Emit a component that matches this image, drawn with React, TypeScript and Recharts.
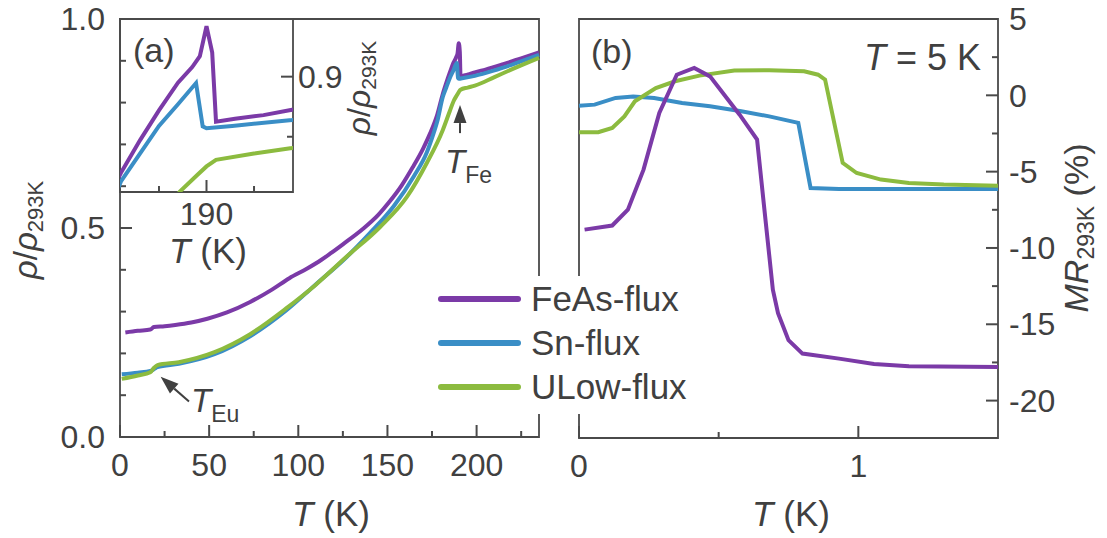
import React from 'react';
import { LineChart, Line, XAxis, YAxis, ReferenceArea, ReferenceLine, Legend } from 'recharts';

const FONT = '"Liberation Sans", Arial, Helvetica, sans-serif';
const INK = '#404040';
const FRAME = '#4a4a4a';
const PURPLE = '#7b3aa7';
const BLUE = '#3a8ec6';
const GREEN = '#8cbb3f';

// (a) normalized resistivity rho / rho(293 K) against temperature
const feasT = [3, 10, 17, 19, 25, 31, 40, 49, 60, 73, 85, 95, 105, 113, 118, 125, 136, 145, 151, 158, 164, 170, 174, 178, 181, 183, 185, 187, 188.5, 189.3, 190, 190.6, 191, 193, 196, 199, 205, 215, 225, 235];
const feasRho = [0.25, 0.254, 0.257, 0.263, 0.265, 0.268, 0.274, 0.283, 0.298, 0.323, 0.352, 0.38, 0.403, 0.424, 0.439, 0.461, 0.497, 0.532, 0.562, 0.602, 0.644, 0.69, 0.727, 0.772, 0.82, 0.847, 0.872, 0.895, 0.908, 0.917, 0.942, 0.92, 0.8625, 0.865, 0.868, 0.8725, 0.879, 0.892, 0.906, 0.92];

const snT = [1, 10, 17, 19, 21, 33, 53, 73, 93, 109, 127, 140, 153.5, 165, 172, 176, 178, 181, 183, 185, 187, 188.9, 189.6, 190, 192.7, 199, 210, 220, 235];
const snRho = [0.15, 0.154, 0.158, 0.162, 0.167, 0.175, 0.198, 0.241, 0.302, 0.362, 0.43, 0.487, 0.552, 0.625, 0.68, 0.728, 0.756, 0.8128, 0.836, 0.859, 0.877, 0.8947, 0.8586, 0.857, 0.859, 0.864, 0.877, 0.891, 0.914];

const ulowT = [1, 10, 17, 19, 21, 33, 53, 73, 93, 110, 127, 146, 161, 172, 181, 185, 187.2, 189, 190, 191, 195, 199, 210, 220, 235];
const ulowRho = [0.139, 0.147, 0.155, 0.165, 0.172, 0.179, 0.203, 0.246, 0.307, 0.365, 0.431, 0.503, 0.575, 0.655, 0.734, 0.78, 0.8044, 0.818, 0.8253, 0.8308, 0.836, 0.8406, 0.861, 0.88, 0.907];

// (b) magnetoresistance at T = 5 K
const feasB = [0.02, 0.119, 0.175, 0.231, 0.2875, 0.35, 0.4125, 0.469, 0.575, 0.6375, 0.6625, 0.694, 0.7125, 0.75, 0.8, 0.931, 1.056, 1.181, 1.5];
const feasMR = [-8.8, -8.53, -7.49, -4.87, -1.16, 1.35, 1.79, 1.24, -1.27, -2.9, -7.27, -12.73, -14.27, -16.04, -16.92, -17.25, -17.6, -17.75, -17.8];

const snB = [0, 0.056, 0.131, 0.194, 0.269, 0.369, 0.469, 0.581, 0.681, 0.785, 0.829, 0.931, 1.18, 1.5];
const snMR = [-0.68, -0.61, -0.17, -0.07, -0.17, -0.5, -0.72, -1.05, -1.38, -1.8, -6.07, -6.14, -6.14, -6.14];

const ulowB = [0, 0.069, 0.119, 0.1625, 0.2, 0.275, 0.344, 0.431, 0.556, 0.681, 0.806, 0.856, 0.881, 0.944, 0.994, 1.081, 1.181, 1.306, 1.5];
const ulowMR = [-2.42, -2.42, -2.14, -1.38, -0.39, 0.48, 0.92, 1.29, 1.62, 1.64, 1.57, 1.35, 1.03, -4.43, -5.09, -5.52, -5.74, -5.85, -5.92];

// axis ranges
const tDomain = [0, 235];
const rhoDomain = [0, 1];
const insetTDomain = [180.9, 199.1];
const insetRhoDomain = [0.804, 0.948];
const bDomain = [0, 1.5];
const mrDomain = [-22.45, 5];

// ticks and their labels (unlabelled entries are minor ticks)
const tTicks = [0, 25, 50, 75, 100, 125, 150, 175, 200, 225];
const tLabels: Record<string, string> = { 0: '0', 50: '50', 100: '100', 150: '150', 200: '200' };
const rhoTicks = [0, 0.1, 0.2, 0.3, 0.4, 0.5, 0.6, 0.7, 0.8, 0.9, 1];
const rhoLabels: Record<string, string> = { 0: '0.0', 0.5: '0.5', 1: '1.0' };
const insetTTicks = [185, 190, 195];
const insetTLabels: Record<string, string> = { 190: '190' };
const insetRhoTicks = [0.85, 0.9];
const insetRhoLabels: Record<string, string> = { 0.9: '0.9' };
const bTicks = [0, 0.5, 1];
const bLabels: Record<string, string> = { 0: '0', 1: '1' };
const mrTicks = [-20, -17.5, -15, -12.5, -10, -7.5, -5, -2.5, 0, 2.5, 5];
const mrLabels: Record<string, string> = { '-20': '-20', '-15': '-15', '-10': '-10', '-5': '-5', 0: '0', 5: '5' };

const zip = (xs: number[], ys: number[], kx: string, ky: string) =>
  xs.map((x, i) => ({ [kx]: x, [ky]: ys[i] }));

const feasA = zip(feasT, feasRho, 't', 'rho');
const snA = zip(snT, snRho, 't', 'rho');
const ulowA = zip(ulowT, ulowRho, 't', 'rho');
const feasBData = zip(feasB, feasMR, 'b', 'mr');
const snBData = zip(snB, snMR, 'b', 'mr');
const ulowBData = zip(ulowB, ulowMR, 'b', 'mr');

const TICK_FS = 32;
const TITLE_FS = 35;
const textStyle = { fontFamily: FONT, fill: INK };

// tick labels only; the inward tick marks are drawn as reference segments
const BottomLabel = ({ x, y, payload, labels, gap = 39 }: any) => {
  const label = labels[String(payload.value)];
  if (label === undefined) return <g />;
  return (
    <text x={x} y={y + gap} textAnchor="middle" fontSize={TICK_FS} style={textStyle}>
      {label}
    </text>
  );
};

const LeftLabel = ({ x, y, payload, labels }: any) => {
  const label = labels[String(payload.value)];
  if (label === undefined) return <g />;
  return (
    <text x={x - 15} y={y + TICK_FS * 0.35} textAnchor="end" fontSize={TICK_FS} style={textStyle}>
      {label}
    </text>
  );
};

const RightLabel = ({ x, y, payload, labels, gap = 11 }: any) => {
  const label = labels[String(payload.value)];
  if (label === undefined) return <g />;
  return (
    <text x={x + gap} y={y + TICK_FS * 0.35} textAnchor="start" fontSize={TICK_FS} style={textStyle}>
      {label}
    </text>
  );
};

// short inward mark at one end of a reference segment
const markShape = (side: 'bottom' | 'left' | 'right', len: number) => (p: any) => {
  const { x1, y1, x2, y2 } = p;
  if (side === 'bottom') {
    const yb = Math.max(y1, y2);
    return <line x1={x1} y1={yb} x2={x1} y2={yb - len} stroke={FRAME} strokeWidth={2} />;
  }
  if (side === 'left') {
    const xl = Math.min(x1, x2);
    return <line x1={xl} y1={y1} x2={xl + len} y2={y1} stroke={FRAME} strokeWidth={2} />;
  }
  const xr = Math.max(x1, x2);
  return <line x1={xr} y1={y1} x2={xr - len} y2={y1} stroke={FRAME} strokeWidth={2} />;
};

const xMarks = (ticks: number[], labels: Record<string, string>, yDom: number[], id: string) =>
  ticks.map((v) => (
    <ReferenceLine
      key={`${id}${v}`}
      segment={[{ x: v, y: yDom[0] }, { x: v, y: yDom[1] }]}
      shape={markShape('bottom', labels[String(v)] !== undefined ? 12 : 6)}
    />
  ));

const yMarks = (ticks: number[], labels: Record<string, string>, xDom: number[], side: 'left' | 'right', id: string) =>
  ticks.map((v) => (
    <ReferenceLine
      key={`${id}${v}`}
      segment={[{ x: xDom[0], y: v }, { x: xDom[1], y: v }]}
      shape={markShape(side, labels[String(v)] !== undefined ? 12 : 6)}
    />
  ));

// arrow from (x1,y1) to the tip at (x2,y2)
const Arrow = (p: any) => {
  const { x1, y1, x2, y2 } = p;
  const dx = x2 - x1;
  const dy = y2 - y1;
  const L = Math.hypot(dx, dy) || 1;
  const ux = dx / L;
  const uy = dy / L;
  const head = 18;
  const half = 6.5;
  const bx = x2 - ux * head;
  const by = y2 - uy * head;
  return (
    <g>
      <line x1={x1} y1={y1} x2={bx} y2={by} stroke={INK} strokeWidth={2} />
      <polygon
        points={`${x2},${y2} ${bx - uy * half},${by + ux * half} ${bx + uy * half},${by - ux * half}`}
        fill={INK}
      />
    </g>
  );
};

const LegendBox = ({ payload }: any) => (
  <div style={{ width: 272, height: 138, background: '#fff', position: 'relative', fontFamily: FONT }}>
    {(payload || []).map((e: any, i: number) => (
      <div
        key={e.value}
        style={{ position: 'absolute', left: 0, top: 3 + i * 44, height: 40, display: 'flex', alignItems: 'center' }}
      >
        <span style={{ display: 'inline-block', marginLeft: 10, width: 83, height: 6, borderRadius: 3, background: e.color }} />
        <span style={{ marginLeft: 10, fontSize: 35, color: INK, lineHeight: '40px', whiteSpace: 'nowrap' }}>{e.value}</span>
      </div>
    ))}
  </div>
);

const seriesProps = { dot: false, strokeWidth: 4, isAnimationActive: false };

export default function App() {
  return (
    <div style={{ position: 'absolute', left: 0, top: 0, width: 1107, height: 538, background: '#fff', overflow: 'hidden' }}>
      {/* (a) main panel */}
      <div style={{ position: 'absolute', left: 0, top: 0, zIndex: 2 }}>
        <LineChart width={560} height={538} margin={{ top: 19, right: 21, bottom: 0, left: 0 }}>
          <XAxis
            type="number"
            dataKey="t"
            domain={tDomain}
            ticks={tTicks}
            interval={0}
            height={101}
            axisLine={false}
            tickLine={false}
            tickSize={0}
            tickMargin={0}
            tick={(p: any) => <BottomLabel {...p} labels={tLabels} />}
          />
          <YAxis
            type="number"
            dataKey="rho"
            domain={rhoDomain}
            ticks={rhoTicks}
            interval={0}
            width={120}
            axisLine={false}
            tickLine={false}
            tickSize={0}
            tickMargin={0}
            tick={(p: any) => <LeftLabel {...p} labels={rhoLabels} />}
          />
          <ReferenceArea x1={tDomain[0]} x2={tDomain[1]} y1={rhoDomain[0]} y2={rhoDomain[1]} fill="none" stroke={FRAME} strokeWidth={1.8} fillOpacity={0} />
          {xMarks(tTicks, tLabels, rhoDomain, 'ta')}
          {yMarks(rhoTicks, rhoLabels, tDomain, 'left', 'ra')}
          <Line {...seriesProps} type="monotone" data={feasA} dataKey="rho" name="FeAs-flux" stroke={PURPLE} />
          <Line {...seriesProps} type="monotone" data={snA} dataKey="rho" name="Sn-flux" stroke={BLUE} />
          <Line {...seriesProps} type="monotone" data={ulowA} dataKey="rho" name="ULow-flux" stroke={GREEN} />
          <ReferenceLine segment={[{ x: 190.7, y: 0.727 }, { x: 190.7, y: 0.794 }]} shape={Arrow} />
          <ReferenceLine segment={[{ x: 38.7, y: 0.085 }, { x: 22.8, y: 0.144 }]} shape={Arrow} />
          <Legend
            layout="vertical"
            align="center"
            verticalAlign="middle"
            content={LegendBox}
            wrapperStyle={{ left: 428, top: 276, width: 272, height: 138 }}
          />
        </LineChart>
      </div>

      {/* (a) inset around the structural transition */}
      <div style={{ position: 'absolute', left: 0, top: 0, zIndex: 3 }}>
        <LineChart width={400} height={300} margin={{ top: 19, right: 0, bottom: 0, left: 120 }}>
          <XAxis
            type="number"
            dataKey="t"
            domain={insetTDomain}
            allowDataOverflow
            ticks={insetTTicks}
            interval={0}
            height={108}
            axisLine={false}
            tickLine={false}
            tickSize={0}
            tickMargin={0}
            tick={(p: any) => <BottomLabel {...p} labels={insetTLabels} gap={33} />}
          />
          <YAxis
            type="number"
            orientation="right"
            dataKey="rho"
            domain={insetRhoDomain}
            allowDataOverflow
            ticks={insetRhoTicks}
            interval={0}
            width={107}
            axisLine={false}
            tickLine={false}
            tickSize={0}
            tickMargin={0}
            tick={(p: any) => <RightLabel {...p} labels={insetRhoLabels} gap={5} />}
          />
          <ReferenceArea x1={insetTDomain[0]} x2={insetTDomain[1]} y1={insetRhoDomain[0]} y2={insetRhoDomain[1]} fill="none" fillOpacity={0} stroke={FRAME} strokeWidth={1.8} />
          {xMarks(insetTTicks, insetTLabels, insetRhoDomain, 'ti')}
          {yMarks(insetRhoTicks, insetRhoLabels, insetTDomain, 'right', 'ri')}
          <Line {...seriesProps} type="linear" data={feasA} dataKey="rho" stroke={PURPLE} />
          <Line {...seriesProps} type="linear" data={snA} dataKey="rho" stroke={BLUE} />
          <Line {...seriesProps} type="linear" data={ulowA} dataKey="rho" stroke={GREEN} />
        </LineChart>
      </div>

      {/* (b) magnetoresistance */}
      <div style={{ position: 'absolute', left: 560, top: 0, zIndex: 1 }}>
        <LineChart width={547} height={538} margin={{ top: 19, right: 0, bottom: 0, left: 19 }}>
          <XAxis
            type="number"
            dataKey="b"
            domain={bDomain}
            ticks={bTicks}
            interval={0}
            height={100}
            axisLine={false}
            tickLine={false}
            tickSize={0}
            tickMargin={0}
            tick={(p: any) => <BottomLabel {...p} labels={bLabels} />}
          />
          <YAxis
            type="number"
            orientation="right"
            dataKey="mr"
            domain={mrDomain}
            ticks={mrTicks}
            interval={0}
            width={109}
            axisLine={false}
            tickLine={false}
            tickSize={0}
            tickMargin={0}
            tick={(p: any) => <RightLabel {...p} labels={mrLabels} />}
          />
          <ReferenceArea x1={bDomain[0]} x2={bDomain[1]} y1={mrDomain[0]} y2={mrDomain[1]} fill="none" fillOpacity={0} stroke={FRAME} strokeWidth={1.8} />
          {xMarks(bTicks, bLabels, mrDomain, 'tb')}
          {yMarks(mrTicks, mrLabels, bDomain, 'right', 'rb')}
          <Line {...seriesProps} type="linear" data={snBData} dataKey="mr" stroke={BLUE} />
          <Line {...seriesProps} type="linear" data={ulowBData} dataKey="mr" stroke={GREEN} />
          <Line {...seriesProps} type="linear" data={feasBData} dataKey="mr" stroke={PURPLE} />
        </LineChart>
      </div>

      {/* titles and annotations */}
      <svg
        width={1107}
        height={538}
        style={{ position: 'absolute', left: 0, top: 0, zIndex: 4, pointerEvents: 'none', fontFamily: FONT }}
      >
        <g fill={INK}>
          <text transform="translate(37 230) rotate(-90)" textAnchor="middle" fontSize={33}>
            <tspan fontStyle="italic">ρ</tspan>/<tspan fontStyle="italic">ρ</tspan>
            <tspan fontSize={22} dy={6}>293K</tspan>
          </text>
          <text transform="translate(370 88) rotate(-90)" textAnchor="middle" fontSize={32}>
            <tspan fontStyle="italic">ρ</tspan>/<tspan fontStyle="italic">ρ</tspan>
            <tspan fontSize={21} dy={6}>293K</tspan>
          </text>
          <text transform="translate(1088 228) rotate(-90)" textAnchor="middle" fontSize={34}>
            <tspan fontStyle="italic">MR</tspan>
            <tspan fontSize={23} dy={6}>293K</tspan>
            <tspan dy={-6}> (%)</tspan>
          </text>
          <text x={331} y={526} textAnchor="middle" fontSize={TITLE_FS}>
            <tspan fontStyle="italic">T</tspan> (K)
          </text>
          <text x={791} y={526} textAnchor="middle" fontSize={TITLE_FS}>
            <tspan fontStyle="italic">T</tspan> (K)
          </text>
          <text x={208} y={263} textAnchor="middle" fontSize={TITLE_FS}>
            <tspan fontStyle="italic">T</tspan> (K)
          </text>
          <text x={133} y={62} fontSize={34}>(a)</text>
          <text x={591} y={63} fontSize={34}>(b)</text>
          <text x={981} y={70} textAnchor="end" fontSize={36}>
            <tspan fontStyle="italic">T</tspan> = 5 K
          </text>
          <text x={445} y={173} fontSize={33}>
            <tspan fontStyle="italic">T</tspan>
            <tspan fontSize={23} dy={10}>Fe</tspan>
          </text>
          <text x={191} y={412} fontSize={33}>
            <tspan fontStyle="italic">T</tspan>
            <tspan fontSize={23} dy={10}>Eu</tspan>
          </text>
        </g>
      </svg>
    </div>
  );
}
